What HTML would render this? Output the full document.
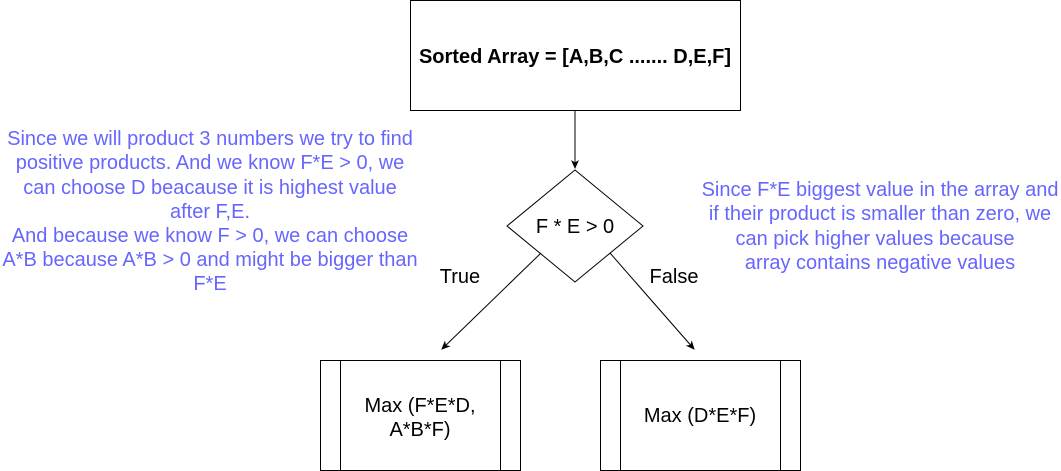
<!DOCTYPE html>
<html><head><meta charset="utf-8"><style>
html,body{margin:0;padding:0;background:#fff;}
svg{display:block;font-family:"Liberation Sans",Arial,sans-serif;}
</style></head><body>
<svg width="1061" height="471" viewBox="0 0 1061 471" xmlns="http://www.w3.org/2000/svg">
<defs><marker id="a" markerWidth="10" markerHeight="10" refX="8" refY="5" orient="auto" markerUnits="userSpaceOnUse"><path d="M0,1 L9,5 L0,9 L2.5,5 Z" fill="#000"/></marker></defs>
<rect x="410.5" y="0.5" width="330" height="110" fill="#fff" stroke="#000"/>
<text x="575" y="63" text-anchor="middle" font-size="20" font-weight="bold">Sorted Array = [A,B,C ....... D,E,F]</text>
<line x1="575" y1="110" x2="575" y2="168" stroke="#000" marker-end="url(#a)"/>
<polygon points="575,170 643,226 575,282 507,226" fill="#fff" stroke="#000"/>
<text x="575" y="233" text-anchor="middle" font-size="20">F * E &gt; 0</text>
<line x1="541" y1="253" x2="442" y2="349" stroke="#000" marker-end="url(#a)"/>
<line x1="610" y1="253" x2="694" y2="349" stroke="#000" marker-end="url(#a)"/>
<text x="460" y="283" text-anchor="middle" font-size="20">True</text>
<text x="674" y="283" text-anchor="middle" font-size="20">False</text>
<rect x="320.5" y="360.5" width="200" height="110" fill="#fff" stroke="#000"/>
<line x1="340.5" y1="360" x2="340.5" y2="470" stroke="#000"/>
<line x1="500.5" y1="360" x2="500.5" y2="470" stroke="#000"/>
<text x="420" y="412" text-anchor="middle" font-size="20">Max (F*E*D,</text>
<text x="420" y="436" text-anchor="middle" font-size="20">A*B*F)</text>
<rect x="600.5" y="360.5" width="200" height="110" fill="#fff" stroke="#000"/>
<line x1="620.5" y1="360" x2="620.5" y2="470" stroke="#000"/>
<line x1="780.5" y1="360" x2="780.5" y2="470" stroke="#000"/>
<text x="700" y="422" text-anchor="middle" font-size="20">Max (D*E*F)</text>
<g fill="#6666ff" font-size="20" text-anchor="middle">
<text x="210" y="145">Since we will product 3 numbers we try to find</text>
<text x="210" y="169">positive products. And we know F*E &gt; 0, we</text>
<text x="210" y="194">can choose D beacause it is highest value</text>
<text x="210" y="218">after F,E.</text>
<text x="210" y="242">And because we know F &gt; 0, we can choose</text>
<text x="210" y="266">A*B because A*B &gt; 0 and might be bigger than</text>
<text x="210" y="290">F*E</text>
<text x="880" y="196">Since F*E biggest value in the array and</text>
<text x="880" y="220">if their product is smaller than zero, we</text>
<text x="875" y="245">can pick higher values because</text>
<text x="880" y="269">array contains negative values</text>
</g>
</svg>
</body></html>
